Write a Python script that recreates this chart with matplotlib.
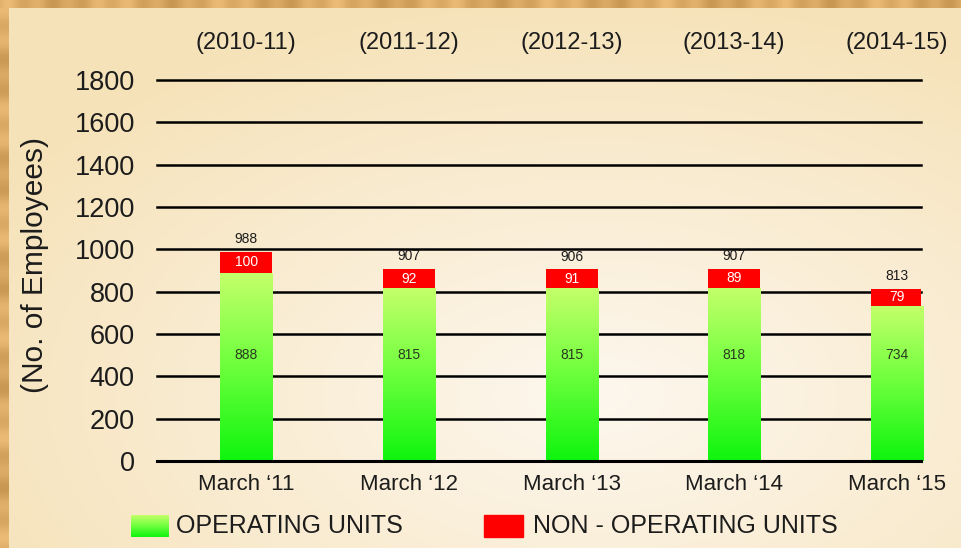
import numpy as np
import matplotlib.pyplot as plt
import matplotlib.transforms as mtransforms
from matplotlib.colors import LinearSegmentedColormap
from matplotlib.patches import Rectangle

periods = ["(2010-11)", "(2011-12)", "(2012-13)", "(2013-14)", "(2014-15)"]
months = ["March \u201811", "March \u201812", "March \u201813", "March \u201814", "March \u201815"]
operating = [888, 815, 815, 818, 734]
non_operating = [100, 92, 91, 89, 79]
total_labels = ["988", "907", "906", "907", "813"]
yticks = [0, 200, 400, 600, 800, 1000, 1200, 1400, 1600, 1800]

plt.rcParams['font.family'] = ['Liberation Sans', 'DejaVu Sans']
TXT = '#1c1c1c'

W, H = 962, 548
fig = plt.figure(figsize=(W / 100, H / 100), dpi=100)

# background: cream panel with a wooden strip on top and left
yy, xx = np.mgrid[0:H, 0:W]
d = np.sqrt(((xx - 0.62 * W) / W) ** 2 + ((yy - 0.72 * H) / H) ** 2)
t = np.clip(d / 0.75, 0, 1)[..., None]
light = np.array([253, 247, 238]) / 255
edge = np.array([246, 226, 184]) / 255
img = light * (1 - t) + edge * t
wood = np.array([218, 170, 100]) / 255
grain_x = (np.sin(xx * 0.21) * 0.5 + np.sin(xx * 0.057 + 1.3) * 0.5)[..., None] * 0.07
grain_y = (np.sin(yy * 0.19) * 0.5 + np.sin(yy * 0.061 + 0.4) * 0.5)[..., None] * 0.07
top = (yy < 8)[..., None]
left = (xx < 9)[..., None]
img = np.where(top, np.clip(wood + grain_x, 0, 1), img)
img = np.where(left & ~top, np.clip(wood + grain_y, 0, 1), img)
bg = fig.add_axes([0, 0, 1, 1], zorder=-10)
bg.imshow(img, aspect='auto', interpolation='bilinear')
bg.axis('off')

ax = fig.add_axes([157 / W, 1 - 461 / H, 764 / W, 381 / H])
ax.set_facecolor('none')
for s in ax.spines.values():
    s.set_visible(False)

x = np.arange(len(months))
width = 0.32

green = LinearSegmentedColormap.from_list('g', ['#0ef50e', '#6cff3c', '#c4ff6a'])
grad = np.linspace(0, 1, 256).reshape(-1, 1)

bars = ax.bar(x, operating, width, color='none', zorder=2)
for b in bars:
    im = ax.imshow(grad, extent=[b.get_x(), b.get_x() + b.get_width(), 0, b.get_height()],
                   origin='lower', aspect='auto', cmap=green, zorder=2)
    im.set_clip_path(b)
ax.bar(x, non_operating, width, bottom=operating, color='#ff0000', zorder=3)

for v in yticks[1:]:
    ax.axhline(v, color='black', lw=1.8, zorder=1, clip_on=False)
ax.axhline(0, color='black', lw=2.2, zorder=4, clip_on=False)

LABEL_Y = 500
for i in range(len(x)):
    top_v = operating[i] + non_operating[i]
    ax.text(x[i], LABEL_Y, str(operating[i]), ha='center', va='center',
            fontsize=10, color='#2a3a20', zorder=5)
    ax.text(x[i], operating[i] + non_operating[i] / 2, str(non_operating[i]),
            ha='center', va='center', fontsize=10, color='white', zorder=5)
    ax.annotate(total_labels[i], (x[i], top_v), xytext=(0, 4), textcoords='offset points',
                ha='center', va='bottom', fontsize=10, color=TXT, zorder=5)

ax.set_xlim(-0.548, 4.148)
ax.set_ylim(0, 1800)
ax.set_yticks(yticks)
ax.set_yticklabels([str(v) for v in yticks])
ax.set_xticks(x, months)
ax.tick_params(axis='y', length=0, pad=16, labelsize=19.5, labelcolor=TXT)
ax.tick_params(axis='x', length=0, pad=9, labelsize=16, labelcolor=TXT)
ax.set_ylabel("(No. of Employees)", fontsize=21.5, color=TXT)
ax.yaxis.set_label_coords(-0.142, 0.514)

trans = mtransforms.blended_transform_factory(ax.transData, fig.transFigure)
for i, p in enumerate(periods):
    ax.text(x[i], 1 - 43 / H, p, transform=trans, ha='center', va='center',
            fontsize=17, color=TXT)

# legend
lg = fig.add_axes([131 / W, 1 - 537 / H, 38 / W, 22 / H])
lg.imshow(grad, origin='lower', aspect='auto', cmap=green)
lg.axis('off')
fig.patches.append(Rectangle((484 / W, 1 - 537 / H), 39 / W, 22 / H,
                             transform=fig.transFigure, color='#ff0000'))
fig.text(176 / W, 1 - 526 / H, "OPERATING UNITS", va='center', fontsize=18, color=TXT)
fig.text(533 / W, 1 - 526 / H, "NON - OPERATING UNITS", va='center', fontsize=18, color=TXT)

fig.savefig('out.png', dpi=100)
